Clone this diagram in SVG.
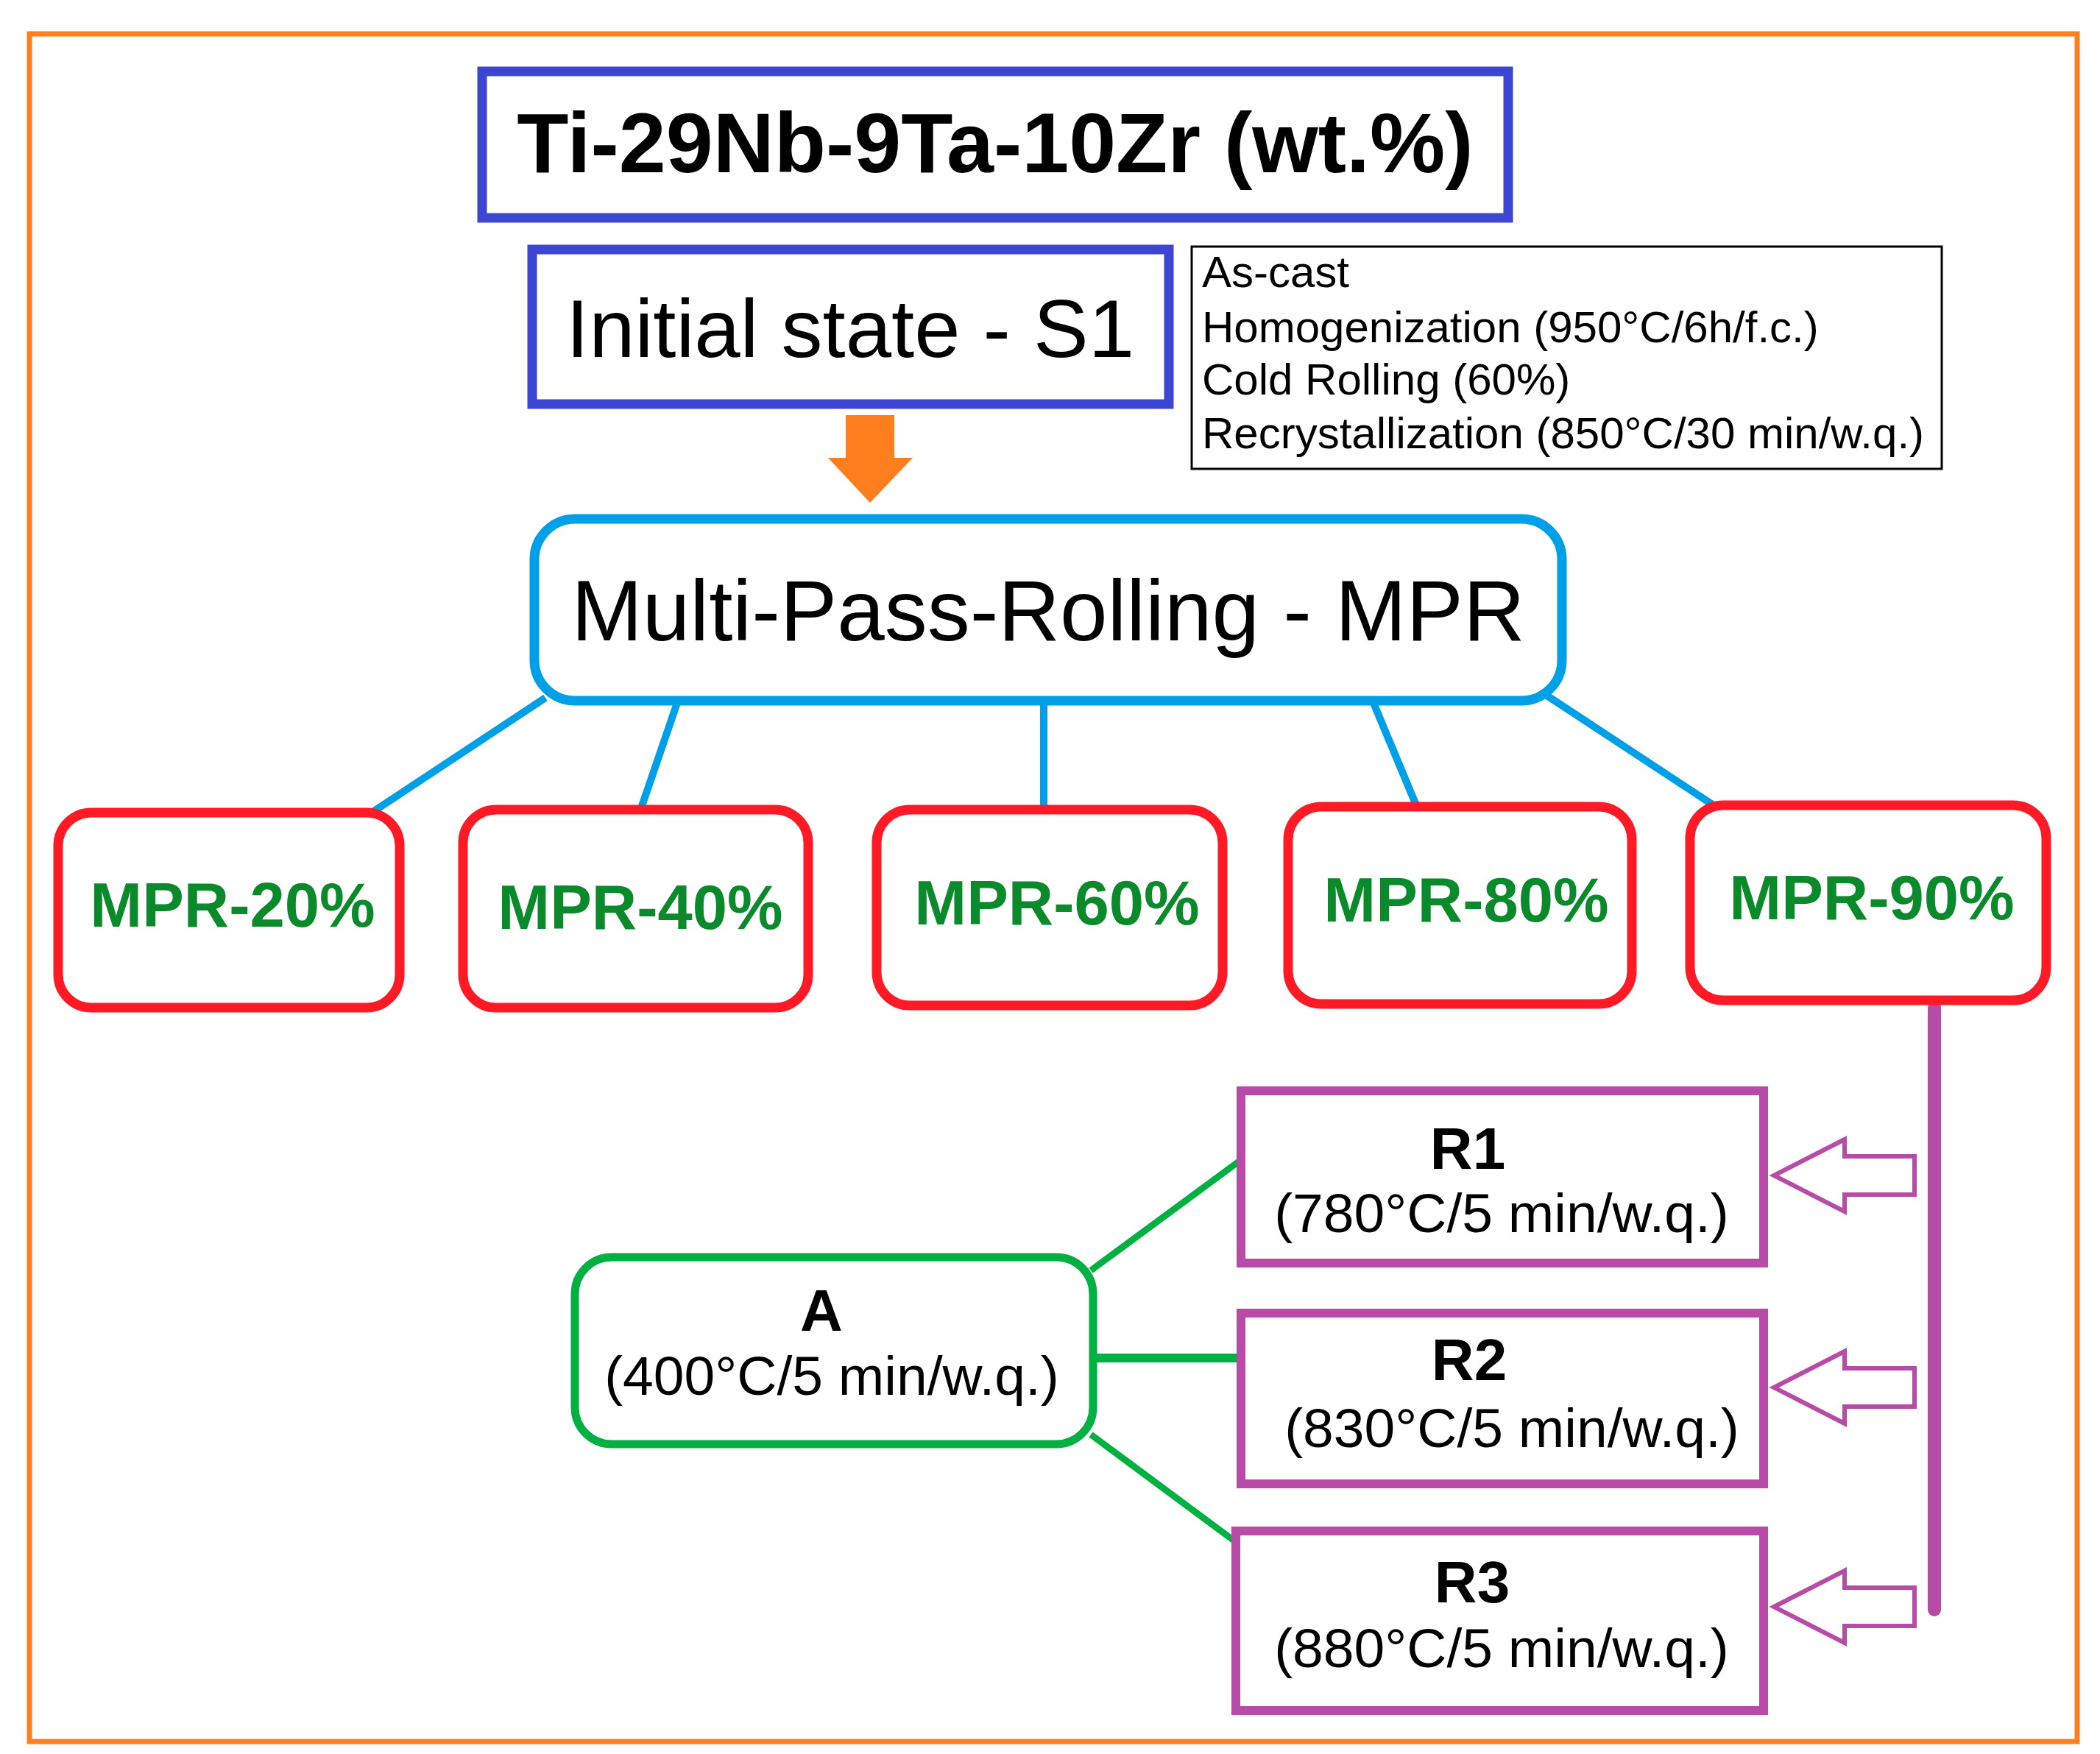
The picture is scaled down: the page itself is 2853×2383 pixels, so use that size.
<svg xmlns="http://www.w3.org/2000/svg" width="2853" height="2383" viewBox="0 0 2853 2383">
<style>
text{font-family:"Liberation Sans",Arial,sans-serif;fill:#000}
.b{font-weight:bold}
.red{fill:#fff;stroke:#ff1a25;stroke-width:13}
.mp{font-weight:bold;fill:#0a8a2a;font-size:85px;text-anchor:middle}
.rb{fill:#fff;stroke:#b94ba8;stroke-width:12}
.ha{fill:#fff;stroke:#b94ba8;stroke-width:6}
.c{text-anchor:middle}
</style>
<rect x="0" y="0" width="2853" height="2383" fill="#fff"/>
<rect x="40" y="46" width="2782" height="2320" fill="none" stroke="#ff7f1e" stroke-width="7"/>
<g id="connectors" fill="none">
<g stroke="#00a0e8" stroke-width="10">
<line x1="741" y1="948" x2="508" y2="1102"/>
<line x1="920" y1="955" x2="871" y2="1098"/>
<line x1="1418" y1="955" x2="1418" y2="1098"/>
<line x1="1866" y1="955" x2="1924" y2="1094"/>
<line x1="2100" y1="944" x2="2328" y2="1094"/>
</g>
<g stroke="#00b040">
<line x1="1482" y1="1726" x2="1683" y2="1578" stroke-width="9"/>
<line x1="1485" y1="1845" x2="1686" y2="1845" stroke-width="12"/>
<line x1="1482" y1="1949" x2="1679" y2="2095" stroke-width="9"/>
</g>
<line x1="2628" y1="1369" x2="2628" y2="2187" stroke="#b94ba8" stroke-width="18" stroke-linecap="round"/>
<path class="ha" d="M2410,1597 L2506,1548 L2506,1571 L2601,1571 L2601,1623 L2506,1623 L2506,1646 Z"/>
<path class="ha" d="M2410,1885 L2506,1836 L2506,1859 L2601,1859 L2601,1911 L2506,1911 L2506,1934 Z"/>
<path class="ha" d="M2410,2183 L2506,2134 L2506,2157 L2601,2157 L2601,2209 L2506,2209 L2506,2232 Z"/>
<path d="M1149,564 L1215,564 L1215,622 L1240,622 L1182,683 L1125,622 L1149,622 Z" fill="#ff7f1e"/>
</g>
<g id="title"><rect x="655" y="97" width="1394" height="199" fill="#fff" stroke="#3c46d2" stroke-width="13"/>
<text x="1352" y="234" class="b c" font-size="115">Ti-29Nb-9Ta-10Zr (wt.%)</text></g>
<g id="s1"><rect x="723" y="339" width="865" height="210" fill="#fff" stroke="#3c46d2" stroke-width="13"/>
<text x="1155" y="485" class="c" font-size="112">Initial state - S1</text></g>
<g id="info"><rect x="1619" y="335" width="1019" height="302" fill="#fff" stroke="#000" stroke-width="3"/>
<text font-size="60"><tspan x="1633" y="390">As-cast</tspan><tspan x="1633" y="465">Homogenization (950°C/6h/f.c.)</tspan><tspan x="1633" y="536">Cold Rolling (60%)</tspan><tspan x="1633" y="609">Recrystallization (850°C/30 min/w.q.)</tspan></text></g>
<g id="mpr"><rect x="726" y="705" width="1396" height="247" rx="55" fill="#fff" stroke="#00a0e8" stroke-width="13"/>
<text x="1424" y="870" class="c" font-size="116">Multi-Pass-Rolling - MPR</text></g>
<g id="mpr20"><rect class="red" x="79" y="1104" width="464" height="265" rx="45"/><text class="mp" x="316" y="1259">MPR-20%</text></g>
<g id="mpr40"><rect class="red" x="629" y="1100" width="469" height="269" rx="45"/><text class="mp" x="870" y="1262">MPR-40%</text></g>
<g id="mpr60"><rect class="red" x="1191" y="1100" width="470" height="266" rx="45"/><text class="mp" x="1436" y="1256">MPR-60%</text></g>
<g id="mpr80"><rect class="red" x="1750" y="1096" width="467" height="268" rx="45"/><text class="mp" x="1992" y="1252">MPR-80%</text></g>
<g id="mpr90"><rect class="red" x="2296" y="1094" width="484" height="265" rx="45"/><text class="mp" x="2543" y="1249">MPR-90%</text></g>
<g id="a"><rect x="781" y="1708" width="704" height="254" rx="50" fill="#fff" stroke="#00b040" stroke-width="11"/>
<text x="1116" y="1808" class="b c" font-size="80">A</text><text x="1130" y="1895" class="c" font-size="75">(400°C/5 min/w.q.)</text></g>
<g id="r1"><rect class="rb" x="1686" y="1482" width="710" height="234"/>
<text x="1994" y="1588" class="b c" font-size="80">R1</text><text x="2040" y="1674" class="c" font-size="75">(780°C/5 min/w.q.)</text></g>
<g id="r2"><rect class="rb" x="1686" y="1784" width="710" height="232"/>
<text x="1996" y="1875" class="b c" font-size="80">R2</text><text x="2054" y="1966" class="c" font-size="75">(830°C/5 min/w.q.)</text></g>
<g id="r3"><rect class="rb" x="1679" y="2080" width="717" height="244"/>
<text x="2000" y="2177" class="b c" font-size="80">R3</text><text x="2040" y="2265" class="c" font-size="75">(880°C/5 min/w.q.)</text></g>
</svg>
